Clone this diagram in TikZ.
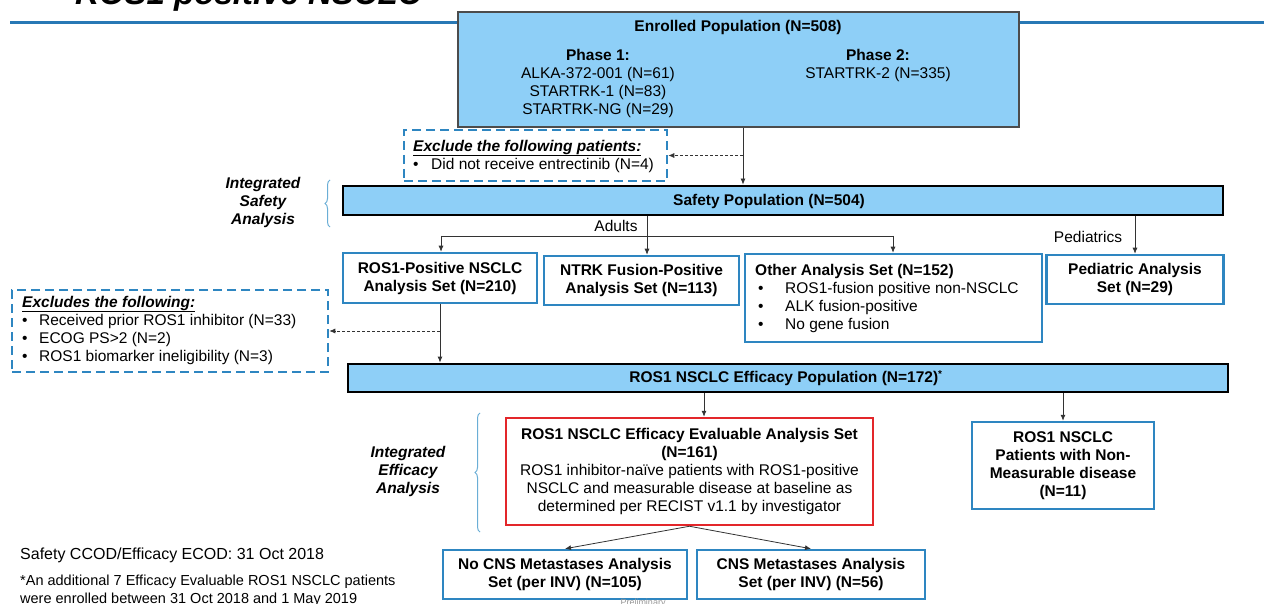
\documentclass[tikz,border=0pt]{standalone}
\usepackage{fontspec}
\setmainfont{Liberation Sans}
\usetikzlibrary{arrows.meta,decorations.pathreplacing}
\definecolor{boxblue}{HTML}{2E86C1}
\definecolor{fillblue}{HTML}{8ECFF7}
\definecolor{redbox}{HTML}{E3262A}
\definecolor{bracecol}{HTML}{6AAED6}
\definecolor{linecol}{HTML}{2878B5}
\tikzset{
  txt/.style={font=\fontsize{15.5}{18}\selectfont, inner sep=0pt, align=center},
  btxt/.style={font=\fontsize{15.5}{18}\selectfont\bfseries, inner sep=0pt, align=center},
  bluebox/.style={draw=boxblue, line width=2.5pt, fill=white, inner sep=0pt, align=center, font=\fontsize{15.5}{18}\selectfont\bfseries},
  redbx/.style={draw=redbox, line width=2.5pt, fill=white, inner sep=0pt, align=center, font=\fontsize{15.5}{18}\selectfont},
  dashbox/.style={draw=boxblue, line width=2.5pt, dash pattern=on 9pt off 5pt, fill=white, inner sep=0pt},
  popbox/.style={draw=black, line width=2.8pt, fill=fillblue, inner sep=0pt},
  enrbox/.style={draw=black!70, line width=1.2pt, fill=fillblue, inner sep=0pt},
  arr/.style={draw=black!80, line width=0.8pt, -{Latex[length=6pt,width=5pt]}},
  darr/.style={arr, dash pattern=on 3pt off 2pt},
  bracestyle/.style={draw=bracecol, line width=1pt, decorate, decoration={brace, amplitude=5pt}},
  sidelbl/.style={font=\fontsize{15.5}{18}\selectfont\bfseries\itshape, inner sep=0pt, align=center},
}
\begin{document}
\begin{tikzpicture}[x=1pt,y=-1pt]
\useasboundingbox (0,0) rectangle (1264,604);
\clip (0,0) rectangle (1264,604);
\fill[white] (0,0) rectangle (1264,604);

% title and top rule
\node[anchor=base west, inner sep=0pt, font=\fontsize{33}{36}\selectfont\bfseries\itshape] (title) at (75,5) {ROS1 positive NSCLC};
\coordinate (ruleL) at (10,23);
\coordinate (ruleR) at (1264,23);
\draw[linecol, line width=3pt] (ruleL) -- (ruleR);

% enrolled
\node[enrbox, minimum width=561, minimum height=115] (enrolled) at (738.5,69.5) {};
\node[btxt] (enrT) at (738,27) {Enrolled Population (N=508)};
\node[txt] (ph1) at (598,83.5) {\textbf{Phase 1:}\\ALKA-372-001 (N=61)\\STARTRK-1 (N=83)\\STARTRK-NG (N=29)};
\node[txt] (ph2) at (878,65.5) {\textbf{Phase 2:}\\STARTRK-2 (N=335)};

% exclusion 1
\node[dashbox, minimum width=263, minimum height=51] (excl) at (535.5,155.5) {};
\node[txt, anchor=west, align=left] (exclT) at (413,156) {\textbf{\textit{\underline{Exclude the following patients:}}}\\\makebox[18pt][l]{•}Did not receive entrectinib (N=4)};

% safety population
\node[popbox, minimum width=880, minimum height=29] (safety) at (783,200.5) {};
\node[btxt] (safT) at (769,201) {Safety Population (N=504)};
\node[sidelbl] (isa) at (263,202) {Integrated\\Safety\\Analysis};
\coordinate (bsB) at (330,227);
\coordinate (bsT) at (330,180);
\draw[bracestyle] (bsB) -- (bsT);

% second row
\node[bluebox, minimum width=194, minimum height=50] (ros1) at (440,278) {ROS1-Positive NSCLC\\Analysis Set (N=210)};
\node[bluebox, minimum width=195, minimum height=49] (ntrk) at (641.5,280.5) {NTRK Fusion-Positive\\Analysis Set (N=113)};
\node[bluebox, minimum width=297, minimum height=88] (other) at (893.5,298) {};
\node[txt, anchor=west, align=left] (otherT) at (755,298) {\textbf{Other Analysis Set (N=152)}\\\hspace*{3pt}\makebox[27pt][l]{•}ROS1-fusion positive non-NSCLC\\\hspace*{3pt}\makebox[27pt][l]{•}ALK fusion-positive\\\hspace*{3pt}\makebox[27pt][l]{•}No gene fusion};
\node[bluebox, minimum width=177, minimum height=49] (pedi) at (1135,279.5) {Pediatric Analysis\\Set (N=29)};

% connectors from safety
\coordinate (xa) at (743,0);
\draw[arr] (xa |- enrolled.south) -- (xa |- safety.north);
\draw[darr] (xa |- excl.east) -- (excl.east);
\coordinate (xb) at (647,0);
\draw[arr] (xb |- safety.south) -- (xb |- ntrk.north);
\node[txt] (adults) at (616,226) {Adults};
\coordinate (hl) at (441,236);
\coordinate (hr) at (893,236);
\draw[black!80, line width=0.8pt] (hl) -- (hr);
\draw[arr] (hl) -- (hl |- ros1.north);
\draw[arr] (hr) -- (hr |- other.north);
\draw[arr] (pedi.north |- safety.south) -- (pedi.north);
\node[txt] (pedlbl) at (1088,237) {Pediatrics};

% exclusion 2
\node[dashbox, minimum width=316, minimum height=82] (excl2) at (170,331) {};
\node[txt, anchor=west, align=left] (excl2T) at (22,330) {\textbf{\textit{\underline{Excludes the following:}}}\\\makebox[17pt][l]{•}Received prior ROS1 inhibitor (N=33)\\\makebox[17pt][l]{•}ECOG PS>2 (N=2)\\\makebox[17pt][l]{•}ROS1 biomarker ineligibility (N=3)};

% efficacy population
\node[popbox, minimum width=880, minimum height=28] (eff) at (788,378) {};
\node[btxt] (effT) at (786,378) {ROS1 NSCLC Efficacy Population (N=172)\textsuperscript{\fontsize{10}{10}\selectfont *}};
\draw[arr] (ros1.south) -- (ros1.south |- eff.north);
\draw[darr] (ros1.south |- excl2.east) -- (excl2.east);

% evaluable
\node[redbx, minimum width=367, minimum height=107] (eval) at (689.5,471.5) {\textbf{ROS1 NSCLC Efficacy Evaluable Analysis Set}\\\textbf{(N=161)}\\ROS1 inhibitor-naïve patients with ROS1-positive\\NSCLC and measurable disease at baseline as\\determined per RECIST v1.1 by investigator};
\node[bluebox, minimum width=182, minimum height=87] (nonm) at (1063,465.5) {ROS1 NSCLC\\Patients with Non-\\Measurable disease\\(N=11)};
\coordinate (xc) at (704,0);
\draw[arr] (xc |- eff.south) -- (xc |- eval.north);
\draw[arr] (nonm.north |- eff.south) -- (nonm.north);
\node[sidelbl] (iea) at (408,471) {Integrated\\Efficacy\\Analysis};
\coordinate (beB) at (480,532);
\coordinate (beT) at (480,413);
\draw[bracestyle] (beB) -- (beT);

% CNS boxes
\node[bluebox, minimum width=244, minimum height=49] (nocns) at (565,574.5) {No CNS Metastases Analysis\\Set (per INV) (N=105)};
\node[bluebox, minimum width=228, minimum height=49] (cns) at (811,574.5) {CNS Metastases Analysis\\Set (per INV) (N=56)};
\draw[arr] (eval.south) -- (nocns.north);
\draw[arr] (eval.south) -- (cns.north);
\node[anchor=north, inner sep=0pt, text=black!40, font=\fontsize{9}{10}\selectfont] (prelim) at (643,599) {Preliminary};

% footer
\node[anchor=base west, inner sep=0pt, font=\fontsize{16}{18}\selectfont] (ccod) at (20,559) {Safety CCOD/Efficacy ECOD: 31 Oct 2018};
\node[anchor=base west, inner sep=0pt, font=\fontsize{14.5}{18}\selectfont] (fn1) at (20,585) {*An additional 7 Efficacy Evaluable ROS1 NSCLC patients};
\node[anchor=base west, inner sep=0pt, font=\fontsize{14.5}{18}\selectfont] (fn2) at (20,603) {were enrolled between 31 Oct 2018 and 1 May 2019};
\end{tikzpicture}
\end{document}
